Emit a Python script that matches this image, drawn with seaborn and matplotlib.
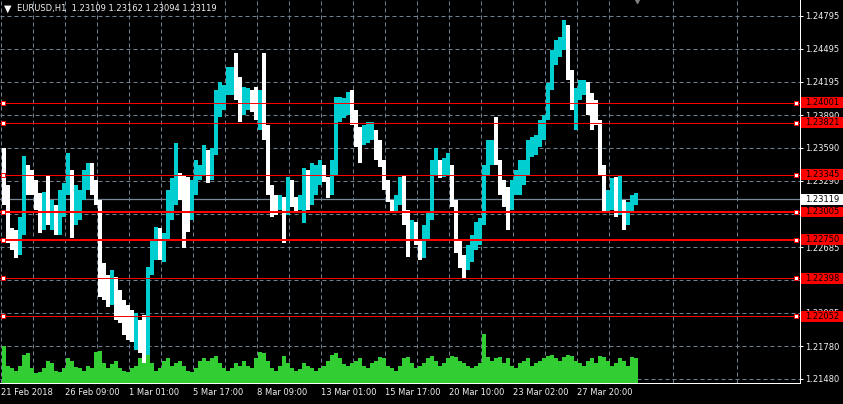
import numpy as np
import matplotlib
matplotlib.use("Agg")
import matplotlib.pyplot as plt
import matplotlib.transforms as mtransforms
from matplotlib.patches import Rectangle
from matplotlib.ticker import FixedLocator, FormatStrFormatter
import seaborn as sns

# --- data (EURUSD, 4-hour bins) ---
symbol_line = "EURUSD,H1  1.23109 1.23162 1.23094 1.23119"
first_open = 1.23300

highs = [1.23590, 1.23252, 1.22859, 1.22841, 1.22960, 1.23517, 1.23435, 1.23389, 1.23298, 1.23179,
         1.23188, 1.23343, 1.23115, 1.23069, 1.23206, 1.23270, 1.23544, 1.23389, 1.23252, 1.23206,
         1.23389, 1.23453, 1.23453, 1.23298, 1.23115, 1.22540, 1.22430, 1.22476, 1.22412, 1.22293,
         1.22202, 1.22156, 1.22111, 1.22083, 1.22019, 1.22065, 1.22503, 1.22750, 1.22868, 1.22859,
         1.22814, 1.23206, 1.23316, 1.23635, 1.23362, 1.23343, 1.23325, 1.23298, 1.23480, 1.23435,
         1.23617, 1.23571, 1.23590, 1.24119, 1.24192, 1.24165, 1.24329, 1.24329, 1.24457, 1.24238,
         1.24147, 1.24138, 1.24119, 1.24147, 1.24119, 1.24457, 1.23800, 1.23206, 1.23161, 1.23161,
         1.23142, 1.23325, 1.23298, 1.23142, 1.23161, 1.23407, 1.23389, 1.23453, 1.23435, 1.23480,
         1.23435, 1.23325, 1.23480, 1.24055, 1.24055, 1.24046, 1.24101, 1.24119, 1.23937, 1.23781,
         1.23800, 1.23827, 1.23827, 1.23708, 1.23663, 1.23462, 1.23298, 1.23115, 1.23161, 1.23325,
         1.23343, 1.23024, 1.22932, 1.22914, 1.22732, 1.22887, 1.22996, 1.23480, 1.23590, 1.23480,
         1.23498, 1.23544, 1.23435, 1.23069, 1.22750, 1.22613, 1.22704, 1.22795, 1.22914, 1.22951,
         1.23435, 1.23663, 1.23663, 1.23873, 1.23480, 1.23298, 1.23234, 1.23298, 1.23389, 1.23480,
         1.23480, 1.23663, 1.23690, 1.23708, 1.23845, 1.23891, 1.24183, 1.24484, 1.24576, 1.24603,
         1.24758, 1.24713, 1.24302, 1.24138, 1.24211, 1.24211, 1.24192, 1.24092, 1.24028, 1.23845,
         1.23435, 1.23206, 1.23316, 1.23325, 1.23343, 1.23088, 1.23097, 1.23161, 1.23179]

lows = [1.23069, 1.22722, 1.22658, 1.22585, 1.22613, 1.22795, 1.23161, 1.23161, 1.23024, 1.22814,
        1.22841, 1.22887, 1.22841, 1.22795, 1.22795, 1.22960, 1.23161, 1.22768, 1.22887, 1.22932,
        1.23115, 1.23206, 1.23161, 1.23069, 1.22229, 1.22202, 1.22138, 1.22156, 1.22019, 1.21992,
        1.21882, 1.21837, 1.21819, 1.21745, 1.21718, 1.21627, 1.21700, 1.22430, 1.22567, 1.22567,
        1.22549, 1.22750, 1.22932, 1.23069, 1.23115, 1.22677, 1.22823, 1.22932, 1.23161, 1.23298,
        1.23343, 1.23270, 1.23298, 1.23526, 1.23873, 1.23937, 1.24074, 1.24074, 1.24028, 1.23827,
        1.23891, 1.23937, 1.23918, 1.23845, 1.23754, 1.23663, 1.23161, 1.22960, 1.22978, 1.23024,
        1.22722, 1.22978, 1.23051, 1.23005, 1.23024, 1.22905, 1.23024, 1.23069, 1.23161, 1.23252,
        1.23279, 1.23133, 1.23161, 1.23343, 1.23827, 1.23864, 1.23891, 1.23800, 1.23599, 1.23453,
        1.23617, 1.23635, 1.23663, 1.23480, 1.23416, 1.23206, 1.23097, 1.22996, 1.23005, 1.23069,
        1.22887, 1.22595, 1.22750, 1.22704, 1.22567, 1.22585, 1.22750, 1.22932, 1.23343, 1.23316,
        1.23325, 1.23343, 1.23051, 1.22631, 1.22494, 1.22403, 1.22476, 1.22549, 1.22658, 1.22704,
        1.22887, 1.23343, 1.23435, 1.23435, 1.23161, 1.23051, 1.22841, 1.23024, 1.23161, 1.23161,
        1.23252, 1.23343, 1.23508, 1.23526, 1.23599, 1.23663, 1.23845, 1.24119, 1.24348, 1.24421,
        1.24484, 1.24211, 1.23937, 1.23754, 1.24028, 1.24074, 1.23891, 1.23754, 1.23800, 1.23343,
        1.22996, 1.22996, 1.23024, 1.22960, 1.22978, 1.22841, 1.22887, 1.23005, 1.23069]

closes = [1.23252, 1.22795, 1.22750, 1.22658, 1.22887, 1.23343, 1.23298, 1.23206, 1.23115, 1.22978,
          1.23069, 1.22978, 1.22978, 1.22841, 1.23115, 1.23206, 1.23389, 1.23115, 1.23115, 1.23161,
          1.23298, 1.23389, 1.23252, 1.23115, 1.22385, 1.22339, 1.22248, 1.22293, 1.22156, 1.22111,
          1.22019, 1.21928, 1.21882, 1.21882, 1.21791, 1.21745, 1.22430, 1.22613, 1.22750, 1.22704,
          1.22750, 1.23069, 1.23206, 1.23298, 1.23252, 1.23161, 1.23024, 1.23206, 1.23389, 1.23389,
          1.23480, 1.23435, 1.23526, 1.24028, 1.24028, 1.24074, 1.24211, 1.24211, 1.24119, 1.23982,
          1.24028, 1.24074, 1.24028, 1.23982, 1.24028, 1.23754, 1.23252, 1.23115, 1.23069, 1.23115,
          1.23024, 1.23206, 1.23115, 1.23069, 1.23115, 1.23252, 1.23206, 1.23343, 1.23371, 1.23389,
          1.23316, 1.23252, 1.23343, 1.23937, 1.23937, 1.23982, 1.24028, 1.23891, 1.23663, 1.23617,
          1.23708, 1.23754, 1.23754, 1.23571, 1.23480, 1.23298, 1.23115, 1.23051, 1.23115, 1.23252,
          1.23024, 1.22841, 1.22859, 1.22750, 1.22658, 1.22795, 1.22932, 1.23389, 1.23480, 1.23389,
          1.23435, 1.23435, 1.23115, 1.22750, 1.22567, 1.22476, 1.22613, 1.22704, 1.22841, 1.22887,
          1.23343, 1.23526, 1.23571, 1.23480, 1.23252, 1.23161, 1.23069, 1.23206, 1.23298, 1.23343,
          1.23389, 1.23571, 1.23617, 1.23663, 1.23754, 1.23845, 1.24119, 1.24393, 1.24484, 1.24530,
          1.24667, 1.24256, 1.24028, 1.24074, 1.24119, 1.24165, 1.24028, 1.23937, 1.23845, 1.23435,
          1.23069, 1.23115, 1.23206, 1.23069, 1.23115, 1.22932, 1.23042, 1.23115, 1.23119]

volumes = [3000, 1400, 1200, 1000, 1400, 2300, 2400, 1200, 800, 900, 1200, 1800,
           1600, 1000, 900, 1200, 2000, 1800, 1300, 1200, 1000, 1400, 1200, 2500,
           2600, 1600, 1200, 1500, 1800, 1200, 1000, 900, 1200, 1400, 2000, 2300,
           2400, 1600, 1000, 1200, 1800, 2000, 1400, 1600, 1800, 1400, 1000, 900,
           1200, 1800, 2000, 1800, 2000, 2200, 1600, 1200, 1000, 1200, 1600, 1400,
           1800, 1400, 1200, 2000, 2500, 2400, 1800, 1200, 1000, 1400, 2200, 1600,
           1200, 1000, 1100, 1600, 1400, 1200, 1000, 1200, 1400, 1800, 2300, 2400,
           2000, 1500, 1400, 1600, 1800, 2000, 1400, 1200, 1600, 1800, 2100, 2000,
           1400, 1200, 1000, 1400, 2000, 2100, 1600, 1200, 1400, 1600, 2000, 2200,
           1800, 1400, 1600, 2000, 2200, 2100, 1800, 1600, 1400, 1200, 1400, 1600,
           4000, 2100, 1800, 2000, 2100, 1600, 2000, 1400, 1200, 1600, 1800, 2000,
           1400, 1600, 1800, 2000, 2200, 2300, 2000, 1800, 2100, 2300, 2200, 1800,
           1600, 1400, 1800, 2000, 1600, 2200, 2100, 1800, 1400, 1600, 2000, 1800,
           1400, 2100, 2000]

x_tick_labels = ["21 Feb 2018", "26 Feb 09:00", "1 Mar 01:00", "5 Mar 17:00", "8 Mar 09:00",
                 "13 Mar 01:00", "15 Mar 17:00", "20 Mar 10:00", "23 Mar 02:00", "27 Mar 20:00"]
price_ticks = [1.24795, 1.24495, 1.24195, 1.23890, 1.23590, 1.23290, 1.22990,
               1.22685, 1.22385, 1.22085, 1.21780, 1.21480]
level_prices = [1.24001, 1.23821, 1.23345, 1.23005, 1.22750, 1.22398, 1.22052]
bold_levels = [1.23005, 1.22750]
bid_price = 1.23119

# --- style ---
UP = "#00ced1"
DOWN = "#ffffff"
VOL = "#32cd32"
GRID = "#708090"
TXT = "#f0f0f0"

sns.set_theme(style="dark", rc={
    "figure.facecolor": "black",
    "axes.facecolor": "black",
    "axes.edgecolor": "white",
    "axes.linewidth": 0.72,
    "xtick.color": "white",
    "ytick.color": "white",
    "text.color": TXT,
})
plt.rcParams["font.family"] = ["DejaVu Sans"]
plt.rcParams["font.size"] = 6

W, H = 843, 404
fig = plt.figure(figsize=(W / 100, H / 100), dpi=100, facecolor="black")
ax = fig.add_axes([0, 21 / H, 800 / W, 383 / H])
ax.set_facecolor("black")

BAR_HOURS = 4
hours = np.arange(len(closes)) * BAR_HOURS
closes_a = np.array(closes)
opens = np.concatenate([[first_open], closes_a[:-1]])
hi = np.maximum(np.array(highs), np.maximum(opens, closes_a))
lo = np.minimum(np.array(lows), np.minimum(opens, closes_a))
colors = [UP if c >= o else DOWN for o, c in zip(opens, closes_a)]

# volume histogram overlaid on the lower part of the price window
VOL_SPAN = 31000
vol_trans = mtransforms.blended_transform_factory(
    ax.transData, mtransforms.Affine2D().scale(1, 1 / VOL_SPAN) + ax.transAxes)
ax.bar(hours, volumes, width=BAR_HOURS, align="edge", color=VOL, linewidth=0,
       transform=vol_trans, zorder=1)

# price bars
ax.bar(hours, hi - lo, bottom=lo, width=BAR_HOURS, align="edge", color=colors,
       linewidth=0, zorder=3)

# horizontal level lines
for p in level_prices:
    lw = 1.45 if p in bold_levels else 0.72
    ax.axhline(p, color="#ff0000", lw=lw, zorder=4)
ax.axhline(bid_price, color="#778899", lw=0.9, zorder=2)

lvl_trans = mtransforms.blended_transform_factory(ax.transAxes, ax.transData)
for p in level_prices:
    ax.plot([0.004, 0.995], [p, p], ls="none", marker="s", ms=3.2, mfc="white",
            mec="#ff0000", mew=0.7, transform=lvl_trans, clip_on=False, zorder=5)

# axis limits and ticks
ax.set_xlim(-2, 798)
ax.set_ylim(1.21443, 1.24941)
major_x = [-1 + 64 * j for j in range(len(x_tick_labels))]
minor_x = [-1 + 32 * m for m in range(25) if m % 2 == 1]
ax.xaxis.set_major_locator(FixedLocator(major_x))
ax.xaxis.set_minor_locator(FixedLocator(minor_x))
ax.set_xticklabels(x_tick_labels, ha="left", color=TXT, fontsize=6)
ax.yaxis.tick_right()
ax.set_yticks(price_ticks)
ax.yaxis.set_major_formatter(FormatStrFormatter("%.5f"))
for lab in ax.get_yticklabels():
    lab.set_color(TXT)
    lab.set_fontsize(6)
ax.tick_params(axis="x", which="major", length=2.3, width=0.72, pad=1.5, direction="out")
ax.tick_params(axis="x", which="minor", length=0)
ax.tick_params(axis="y", which="major", length=2.3, width=0.72, pad=1.2, direction="out",
               left=False, right=True)
ax.grid(True, axis="x", which="both", color=GRID, linestyle=(0, (4, 3)), linewidth=0.72)
ax.grid(True, axis="y", which="major", color=GRID, linestyle=(0, (4, 3)), linewidth=0.72)
ax.set_axisbelow(True)
for s in ["top", "left"]:
    ax.spines[s].set_visible(False)
ax.spines["bottom"].set_color("white")
ax.spines["right"].set_color("white")

# price label boxes on the right scale
box_h = 0.00100
for p in level_prices:
    ax.add_patch(Rectangle((801 / 800, p - box_h / 2), 42 / 800, box_h, transform=lvl_trans,
                           facecolor="#ff0000", edgecolor="none", clip_on=False, zorder=6))
    ax.text(805 / 800, p, f"{p:.5f}", transform=lvl_trans, color="black", fontsize=6,
            va="center", ha="left", clip_on=False, zorder=7)
ax.add_patch(Rectangle((801 / 800, bid_price - box_h / 2), 42 / 800, box_h, transform=lvl_trans,
                       facecolor="white", edgecolor="none", clip_on=False, zorder=6))
ax.text(805 / 800, bid_price, f"{bid_price:.5f}", transform=lvl_trans, color="black",
        fontsize=6, va="center", ha="left", clip_on=False, zorder=7)

# chart shift marker and symbol line
ax.plot([635], [1.0], marker="v", ms=5, color="#808080", ls="none",
        transform=mtransforms.blended_transform_factory(ax.transData, ax.transAxes),
        clip_on=False, zorder=6)
fig.text(4 / W, 1 - 9 / H, "\u25bc", color="white", fontsize=7, va="center", ha="left")
fig.text(17 / W, 1 - 9 / H, symbol_line, color=TXT, fontsize=6, va="center", ha="left")

fig.savefig("out.png", dpi=100, facecolor="black")
